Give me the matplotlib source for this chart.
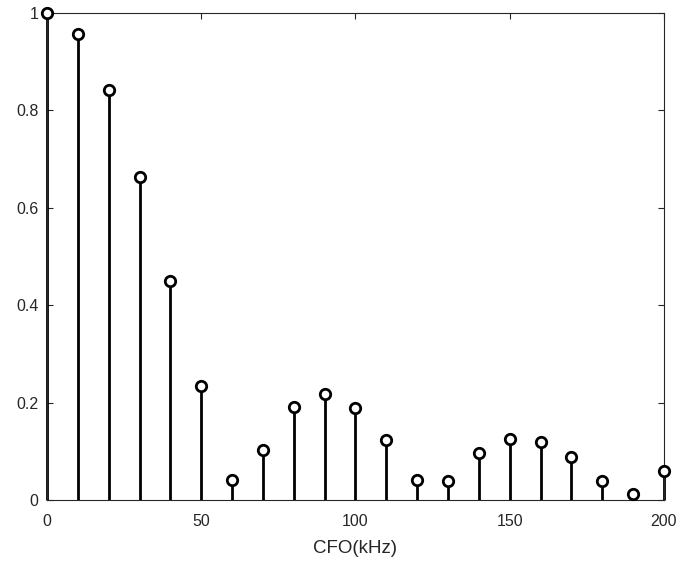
import matplotlib
matplotlib.use("Agg")
import matplotlib.pyplot as plt

cfo_khz = [0, 10, 20, 30, 40, 50, 60, 70, 80, 90, 100, 110, 120, 130, 140, 150, 160, 170, 180, 190, 200]
values = [1.0, 0.957, 0.841, 0.663, 0.450, 0.235, 0.042, 0.103, 0.190, 0.218, 0.188, 0.123,
          0.041, 0.038, 0.097, 0.126, 0.120, 0.088, 0.038, 0.012, 0.059]
xticks = [0, 50, 100, 150, 200]
yticks = [0, 0.2, 0.4, 0.6, 0.8, 1]
ytick_labels = ["0", "0.2", "0.4", "0.6", "0.8", "1"]

plt.rcParams['font.family'] = ['Liberation Sans', 'DejaVu Sans']
fig = plt.figure(figsize=(6.81, 5.64), dpi=100)
ax = fig.add_axes([0.069, 0.1135, 0.906, 0.8635])

ax.vlines(cfo_khz, 0, values, colors='black', linewidth=2.0, clip_on=False, zorder=2)
ax.plot(cfo_khz, values, linestyle='none', marker='o', markersize=7.5, markerfacecolor='white',
        markeredgecolor='black', markeredgewidth=2.0, clip_on=False, zorder=3)

ax.set_xlim(0, 200)
ax.set_ylim(0, 1)
ax.set_xticks(xticks)
ax.set_yticks(yticks)
ax.set_yticklabels(ytick_labels)
axcol = '#262626'
for s in ax.spines.values():
    s.set_color(axcol)
    s.set_linewidth(0.8)
ax.tick_params(direction='in', top=True, right=True, length=4, width=0.8, colors=axcol,
               labelsize=11.5, labelcolor=axcol)
ax.tick_params(axis='x', pad=10)
ax.tick_params(axis='y', pad=6)
ax.set_xlabel('CFO(kHz)', fontsize=13.5, color=axcol, labelpad=8)

fig.savefig('out.png', dpi=100)
